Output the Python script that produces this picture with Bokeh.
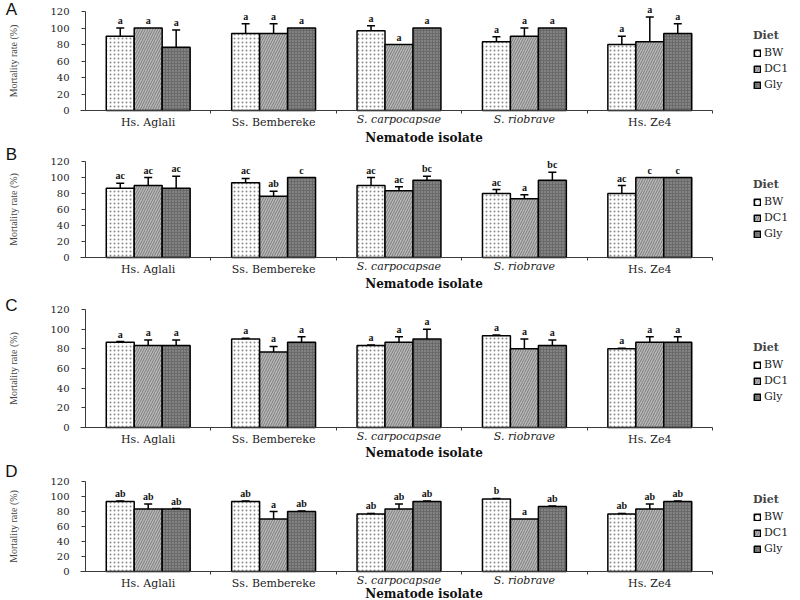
import numpy as np
from bokeh.plotting import figure
from bokeh.models import (ColumnDataSource, Whisker, TeeHead, LabelSet, Label,
                          Legend, LegendItem, FixedTicker, Range1d, LinearAxis)
from bokeh.layouts import column
from bokeh.embed import file_html
from bokeh.resources import INLINE

# ---------------- data ----------------
isolates = ["Hs. Aglali", "Ss. Bembereke", "S. carpocapsae", "S. riobrave", "Hs. Ze4"]
isolate_italic = [False, False, True, True, False]
diets = ["BW", "DC1", "Gly"]
y_ticks = [0, 20, 40, 60, 80, 100, 120]
x_title = "Nematode isolate"
y_title = "Mortality rate (%)"
legend_title = "Diet"

# Panel A
A_BW = [90.0, 93.3, 96.7, 83.3, 80.0]
A_BW_err = [10.0, 12.0, 6.0, 6.0, 10.0]
A_BW_sig = ["a", "a", "a", "a", "a"]
A_DC1 = [100.0, 93.3, 80.0, 90.0, 83.3]
A_DC1_err = [0.0, 12.0, 0.0, 10.0, 30.0]
A_DC1_sig = ["a", "a", "a", "a", "a"]
A_Gly = [76.7, 100.0, 100.0, 100.0, 93.3]
A_Gly_err = [21.0, 0.0, 0.0, 0.0, 12.0]
A_Gly_sig = ["a", "a", "a", "a", "a"]

# Panel B
B_BW = [86.7, 93.3, 90.0, 80.0, 80.0]
B_BW_err = [6.0, 5.5, 10.0, 5.0, 10.0]
B_BW_sig = ["ac", "ac", "ac", "ac", "ac"]
B_DC1 = [90.0, 76.7, 83.3, 73.3, 100.0]
B_DC1_err = [10.0, 6.0, 5.0, 5.0, 0.0]
B_DC1_sig = ["ac", "ab", "ac", "a", "c"]
B_Gly = [86.7, 100.0, 96.7, 96.7, 100.0]
B_Gly_err = [15.0, 0.0, 5.0, 10.0, 0.0]
B_Gly_sig = ["ac", "c", "bc", "bc", "c"]

# Panel C
C_BW = [86.7, 90.0, 83.3, 93.3, 80.0]
C_BW_err = [0.7, 0.7, 0.7, 0.7, 0.7]
C_BW_sig = ["a", "a", "a", "a", "a"]
C_DC1 = [83.3, 76.7, 86.7, 80.0, 86.7]
C_DC1_err = [5.7, 5.7, 5.7, 10.0, 5.7]
C_DC1_sig = ["a", "a", "a", "a", "a"]
C_Gly = [83.3, 86.7, 90.0, 83.3, 86.7]
C_Gly_err = [5.7, 5.7, 10.0, 5.7, 5.7]
C_Gly_sig = ["a", "a", "a", "a", "a"]

# Panel D
D_BW = [93.3, 93.3, 76.7, 96.7, 76.7]
D_BW_err = [0.7, 0.7, 0.7, 0.7, 0.7]
D_BW_sig = ["ab", "ab", "ab", "b", "ab"]
D_DC1 = [83.3, 70.0, 83.3, 70.0, 83.3]
D_DC1_err = [6.7, 10.0, 6.7, 0.0, 6.7]
D_DC1_sig = ["ab", "a", "ab", "a", "ab"]
D_Gly = [83.3, 80.0, 93.3, 86.7, 93.3]
D_Gly_err = [0.7, 0.7, 0.7, 0.7, 0.7]
D_Gly_sig = ["ab", "ab", "ab", "ab", "ab"]

# ---------------- styling ----------------
SERIF = "DejaVu Serif"
BAR_STYLE = {
    "BW": dict(fill_color="white", hatch_pattern=".", hatch_color="#8c8c8c", hatch_scale=4, hatch_weight=1),
    "DC1": dict(fill_color="#b8b8b8", hatch_pattern="/", hatch_color="#7c7c7c", hatch_scale=5, hatch_weight=1),
    "Gly": dict(fill_color="#6a6a6a", hatch_pattern=".", hatch_color="#a6a6a6", hatch_scale=3, hatch_weight=1),
}
BAR_W = 0.223
OFFSETS = [-BAR_W, 0.0, BAR_W]
FIG_W = 800
AXIS_X_PX = 85      # y-axis position inside figure (px)
GROUP_PX = 125.4    # width of one isolate group (px)
AXIS_COLOR = "#3a3a3a"


def make_panel(letter, data, H, top_px, frame_h, letter_dy, title_dy, legend_gap):
    ppu = frame_h / 120.0
    y0_px = top_px + frame_h
    x_start = -0.5 - AXIS_X_PX / GROUP_PX
    x_end = x_start + FIG_W / GROUP_PX
    y_start = -(H - y0_px) / ppu
    y_end = 120 + top_px / ppu
    p = figure(width=FIG_W, height=H, x_range=Range1d(x_start, x_end),
               y_range=Range1d(y_start, y_end), output_backend="svg",
               toolbar_location=None, min_border=0, x_axis_location=None,
               y_axis_location=None)
    p.outline_line_color = None
    p.xgrid.visible = False
    p.ygrid.visible = False
    p.background_fill_color = "white"

    n = len(isolates)
    # ---- y axis at the left edge of the first group
    yax = LinearAxis(fixed_location=-0.5, bounds=(0, 120), ticker=FixedTicker(ticks=y_ticks, minor_ticks=[]))
    yax.major_tick_in = 0
    yax.major_tick_out = 4
    yax.major_label_text_font = SERIF
    yax.major_label_text_font_size = "10px"
    yax.major_label_text_color = "#222222"
    yax.major_label_standoff = 12
    yax.axis_line_color = AXIS_COLOR
    yax.major_tick_line_color = AXIS_COLOR
    yax.axis_label = y_title
    yax.axis_label_text_font = "Liberation Serif"
    yax.axis_label_text_font_size = "10px"
    yax.axis_label_text_font_style = "normal"
    yax.axis_label_standoff = 28
    p.add_layout(yax, "left")

    # ---- x axis (upright isolate names) at y = 0
    upright = [i for i in range(n) if not isolate_italic[i]]
    italic = [i for i in range(n) if isolate_italic[i]]
    xax = LinearAxis(fixed_location=0, bounds=(-0.54, n - 0.5),
                     ticker=FixedTicker(ticks=upright, minor_ticks=[i + 0.5 for i in range(n)]))
    xax.major_label_overrides = {i: isolates[i] for i in upright}
    xax.major_tick_line_color = None
    xax.major_tick_in = 0
    xax.major_tick_out = 0
    xax.minor_tick_in = 0
    xax.minor_tick_out = 3
    xax.minor_tick_line_color = AXIS_COLOR
    xax.axis_line_color = AXIS_COLOR
    xax.major_label_standoff = 2
    xax.major_label_text_font = SERIF
    xax.major_label_text_font_size = "11px"
    xax.major_label_text_color = "#222222"
    p.add_layout(xax, "below")

    # ---- overlaid axis for the italic species names
    xax2 = LinearAxis(fixed_location=0, bounds=(-0.5, n - 0.5),
                      ticker=FixedTicker(ticks=italic, minor_ticks=[]))
    xax2.major_label_overrides = {i: isolates[i] for i in italic}
    xax2.axis_line_color = None
    xax2.major_tick_line_color = None
    xax2.minor_tick_line_color = None
    xax2.major_tick_in = 0
    xax2.major_tick_out = 0
    xax2.major_label_standoff = 2
    xax2.major_label_text_font = SERIF
    xax2.major_label_text_font_size = "11px"
    xax2.major_label_text_font_style = "italic"
    xax2.major_label_text_color = "#222222"
    p.add_layout(xax2, "below")

    centers = np.arange(n, dtype=float)
    items = []
    for j, d in enumerate(diets):
        means = np.array(data[d][0], dtype=float)
        errs = np.array(data[d][1], dtype=float)
        sigs = data[d][2]
        xs = centers + OFFSETS[j]
        src = ColumnDataSource(dict(x=xs, top=means))
        r = p.vbar(x="x", top="top", width=BAR_W, bottom=0, source=src,
                   line_color="black", line_width=1.5, **BAR_STYLE[d])
        items.append(LegendItem(label=d, renderers=[r]))

        mask = errs > 0
        wsrc = ColumnDataSource(dict(x=xs[mask], lower=means[mask], upper=(means + errs)[mask]))
        p.add_layout(Whisker(base="x", lower="lower", upper="upper", source=wsrc,
                             dimension="height", line_color="black", line_width=1.5,
                             lower_head=None,
                             upper_head=TeeHead(size=8, line_color="black", line_width=1.5)))

        lsrc = ColumnDataSource(dict(x=xs, y=np.maximum(means, means + errs) + 4.0 / ppu, t=sigs))
        p.add_layout(LabelSet(x="x", y="y", text="t", source=lsrc, text_align="center",
                              text_baseline="alphabetic", text_font=SERIF,
                              text_font_size="10px", text_font_style="bold",
                              text_color="#111111"))

    # x-axis title
    p.add_layout(Label(x=2.2, y=-title_dy / ppu, text=x_title,
                       text_align="center", text_baseline="middle", text_font=SERIF,
                       text_font_size="12px", text_font_style="bold", text_color="#111111"))

    # panel letter
    p.add_layout(Label(x=x_start + 11.0 / GROUP_PX, y=120 + letter_dy / ppu, text=letter,
                       text_align="center", text_baseline="middle",
                       text_font="Liberation Sans", text_font_size="17px",
                       text_color="#111111"))

    leg = Legend(items=items, title=legend_title,
                 location=(753, (H - y0_px) + legend_gap),
                 glyph_width=8, glyph_height=8, label_height=10, label_standoff=3,
                 spacing=3, padding=2, margin=0, border_line_color=None,
                 background_fill_alpha=0, label_text_font=SERIF, label_text_font_size="11px",
                 label_text_color="#222222", title_text_font=SERIF,
                 title_text_font_size="11px", title_text_font_style="bold",
                 title_standoff=4)
    p.add_layout(leg, "center")
    return p


panels = [
    ("A", {"BW": (A_BW, A_BW_err, A_BW_sig), "DC1": (A_DC1, A_DC1_err, A_DC1_sig),
           "Gly": (A_Gly, A_Gly_err, A_Gly_sig)}, 145, 11, 99, 2, 27, 19),
    ("B", {"BW": (B_BW, B_BW_err, B_BW_sig), "DC1": (B_DC1, B_DC1_err, B_DC1_sig),
           "Gly": (B_Gly, B_Gly_err, B_Gly_sig)}, 147, 16, 96, 7, 26, 17),
    ("C", {"BW": (C_BW, C_BW_err, C_BW_sig), "DC1": (C_DC1, C_DC1_err, C_DC1_sig),
           "Gly": (C_Gly, C_Gly_err, C_Gly_sig)}, 168, 17, 118, 4, 25, 24),
    ("D", {"BW": (D_BW, D_BW_err, D_BW_sig), "DC1": (D_DC1, D_DC1_err, D_DC1_sig),
           "Gly": (D_Gly, D_Gly_err, D_Gly_sig)}, 140, 21, 90, 10, 22, 16),
]

figs = [make_panel(*args) for args in panels]
layout = column(*figs, spacing=0)

open("out.html", "w").write(file_html(layout, INLINE))
